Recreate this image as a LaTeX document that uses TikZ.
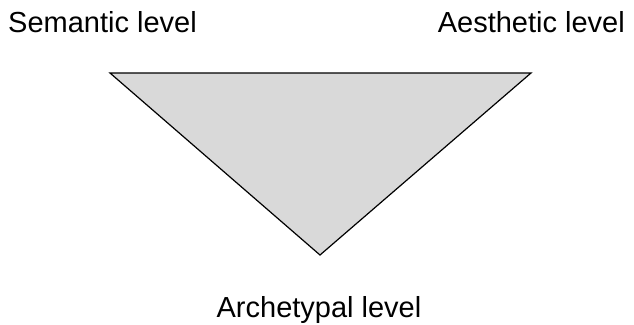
\documentclass[tikz,border=0pt]{standalone}
\usepackage{fontspec}
\setmainfont{Liberation Sans}
\begin{document}
\begin{tikzpicture}[x=1pt,y=-1pt,
  lbl/.style={inner sep=0pt, font=\fontsize{29}{33}\selectfont},
  tri/.style={draw=black, fill=black!15, line width=1.2pt, line join=miter}]
\useasboundingbox (0,0) rectangle (634,324);
\coordinate (tl) at (110,73);
\coordinate (tr) at (531,73);
\coordinate (bt) at (320,255);
\draw[tri] (tl) -- (tr) -- (bt) -- cycle;
\node[lbl, anchor=base west] (sem) at (8,32) {Semantic level};
\node[lbl, anchor=base east] (aes) at (625,32) {Aesthetic level};
\node[lbl, anchor=base] (arc) at (319,317) {Archetypal level};
\end{tikzpicture}
\end{document}
